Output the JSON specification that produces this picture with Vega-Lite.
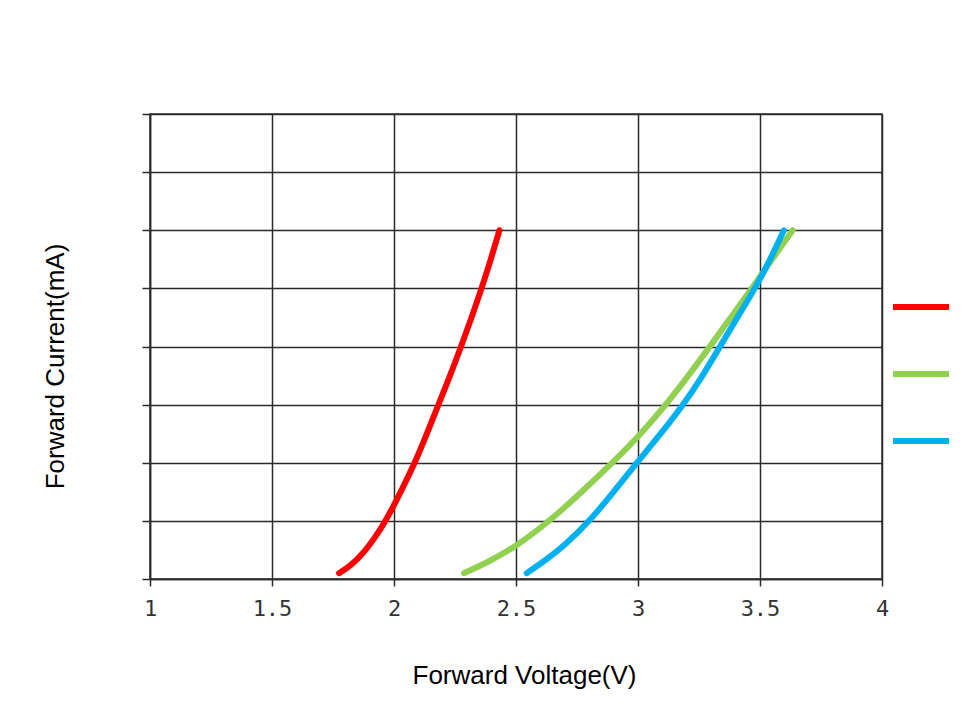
{
  "$schema": "https://vega.github.io/schema/vega-lite/v6.json",
  "width": 732,
  "height": 465,
  "autosize": {"type": "none"},
  "padding": {"left": 150, "top": 114, "right": 86, "bottom": 129},
  "background": "white",
  "config": {
    "view": {"stroke": "#333", "strokeWidth": 1.5},
    "axis": {
      "gridColor": "#2b2b2b",
      "gridWidth": 1.5,
      "gridOpacity": 1,
      "domainColor": "#2b2b2b",
      "domainWidth": 1.5,
      "tickColor": "#2b2b2b",
      "tickWidth": 1.5,
      "titleFont": "Liberation Sans",
      "titleFontSize": 26,
      "titleFontWeight": "normal",
      "titleColor": "#000",
      "labelFont": "DejaVu Sans Mono",
      "labelFontSize": 22,
      "labelColor": "#333"
    }
  },
  "data": {
    "values": [
      {"series": "Red", "v": 1.775, "i": 0.5},
      {"series": "Red", "v": 1.82, "i": 1.1},
      {"series": "Red", "v": 1.87, "i": 2.1},
      {"series": "Red", "v": 1.92, "i": 3.5},
      {"series": "Red", "v": 1.967, "i": 5.0},
      {"series": "Red", "v": 2.03, "i": 7.6},
      {"series": "Red", "v": 2.086, "i": 10},
      {"series": "Red", "v": 2.135, "i": 12.5},
      {"series": "Red", "v": 2.182, "i": 15},
      {"series": "Red", "v": 2.23, "i": 17.5},
      {"series": "Red", "v": 2.275, "i": 20},
      {"series": "Red", "v": 2.318, "i": 22.5},
      {"series": "Red", "v": 2.359, "i": 25},
      {"series": "Red", "v": 2.397, "i": 27.5},
      {"series": "Red", "v": 2.432, "i": 30},
      {"series": "Green", "v": 2.287, "i": 0.5},
      {"series": "Green", "v": 2.39, "i": 1.5},
      {"series": "Green", "v": 2.5, "i": 2.8},
      {"series": "Green", "v": 2.639, "i": 5},
      {"series": "Green", "v": 2.77, "i": 7.5},
      {"series": "Green", "v": 2.89, "i": 9.9},
      {"series": "Green", "v": 3.0, "i": 12.2},
      {"series": "Green", "v": 3.115, "i": 15},
      {"series": "Green", "v": 3.2, "i": 17.3},
      {"series": "Green", "v": 3.295, "i": 20},
      {"series": "Green", "v": 3.38, "i": 22.5},
      {"series": "Green", "v": 3.466, "i": 25},
      {"series": "Green", "v": 3.55, "i": 27.5},
      {"series": "Green", "v": 3.634, "i": 30},
      {"series": "Blue", "v": 2.544, "i": 0.5},
      {"series": "Blue", "v": 2.62, "i": 1.6},
      {"series": "Blue", "v": 2.7, "i": 2.9},
      {"series": "Blue", "v": 2.803, "i": 5},
      {"series": "Blue", "v": 2.9, "i": 7.5},
      {"series": "Blue", "v": 2.995, "i": 10},
      {"series": "Blue", "v": 3.09, "i": 12.4},
      {"series": "Blue", "v": 3.186, "i": 15},
      {"series": "Blue", "v": 3.26, "i": 17.3},
      {"series": "Blue", "v": 3.336, "i": 20},
      {"series": "Blue", "v": 3.41, "i": 22.6},
      {"series": "Blue", "v": 3.48, "i": 25},
      {"series": "Blue", "v": 3.54, "i": 27.4},
      {"series": "Blue", "v": 3.598, "i": 30}
    ]
  },
  "mark": {"type": "line", "strokeWidth": 6, "strokeCap": "round", "strokeJoin": "round", "interpolate": "basis"},
  "encoding": {
    "x": {
      "field": "v",
      "type": "quantitative",
      "scale": {"domain": [1, 4], "nice": false, "zero": false},
      "axis": {
        "values": [1, 1.5, 2, 2.5, 3, 3.5, 4],
        "format": "~g",
        "title": "Forward Voltage(V)",
        "tickSize": 7,
        "labelPadding": 12,
        "labelFlush": false,
        "titleX": 374,
        "titleY": 104,
        "titleBaseline": "alphabetic"
      }
    },
    "y": {
      "field": "i",
      "type": "quantitative",
      "scale": {"domain": [0, 40], "nice": false},
      "axis": {
        "values": [0, 5, 10, 15, 20, 25, 30, 35, 40],
        "labels": false,
        "title": "Forward Current(mA)",
        "tickSize": 8,
        "titleX": -87,
        "titleY": 252,
        "titleBaseline": "alphabetic"
      }
    },
    "color": {
      "field": "series",
      "type": "nominal",
      "scale": {"domain": ["Red", "Green", "Blue"], "range": ["#FF0000", "#92D050", "#00B0F0"]},
      "legend": {
        "orient": "none",
        "legendX": 740,
        "legendY": 162,
        "title": null,
        "symbolType": "stroke",
        "symbolSize": 3136,
        "symbolStrokeWidth": 6,
        "rowPadding": 24,
        "labelExpr": "''",
        "padding": 0
      }
    }
  }
}
